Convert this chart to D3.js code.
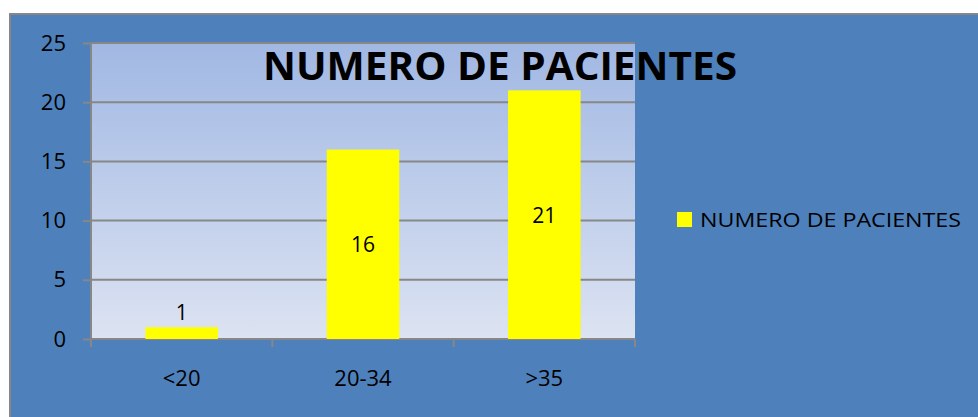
<!DOCTYPE html>
<html lang="en">
<head>
<meta charset="utf-8">
<title>Numero de pacientes</title>
<script src="https://d3js.org/d3.v7.min.js"></script>
<style>
  body { margin: 0; background: #fff; }
  svg text { font-family: "Open Sans", "Noto Sans", sans-serif; fill: #000; }
</style>
</head>
<body>
<svg id="chart" width="978" height="417"></svg>
<script>
// data
var categories = ["<20", "20-34", ">35"];
var pacientes = [1, 16, 21];
var yTicks = [0, 5, 10, 15, 20, 25];
var seriesName = "NUMERO DE PACIENTES";

var svg = d3.select("#chart");
var plot = { left: 91, right: 635, top: 43, bottom: 339 };

// outer frame
svg.append("rect")
  .attr("x", 10).attr("y", 14)
  .attr("width", 978).attr("height", 420)
  .attr("fill", "#4e80bc")
  .attr("stroke", "#878787").attr("stroke-width", 2);

// plot background gradient
var grad = svg.append("defs").append("linearGradient")
  .attr("id", "bg").attr("x1", 0).attr("x2", 0).attr("y1", 0).attr("y2", 1);
grad.append("stop").attr("offset", "0%").attr("stop-color", "#a1b8e3");
grad.append("stop").attr("offset", "100%").attr("stop-color", "#dce3f2");

svg.append("rect")
  .attr("x", plot.left).attr("y", plot.top)
  .attr("width", plot.right - plot.left).attr("height", plot.bottom - plot.top)
  .attr("fill", "url(#bg)");

var x = d3.scaleBand()
  .domain(categories)
  .range([plot.left, plot.right])
  .paddingInner(0.6).paddingOuter(0.3);

var y = d3.scaleLinear()
  .domain([0, 25])
  .range([plot.bottom, plot.top]);

// gridlines
svg.append("g").selectAll("line")
  .data(yTicks.filter(function(d) { return d > 0; }))
  .enter().append("line")
  .attr("x1", plot.left).attr("x2", plot.right)
  .attr("y1", function(d) { return y(d); }).attr("y2", function(d) { return y(d); })
  .attr("stroke", "#878787").attr("stroke-width", 2);

// y axis
var yAxis = svg.append("g")
  .attr("transform", "translate(" + plot.left + ",0)")
  .call(d3.axisLeft(y).tickValues(yTicks).tickSize(8).tickPadding(17));
yAxis.selectAll("text").style("font-size", "22px");

// x axis with boundary ticks
var xAxis = svg.append("g")
  .attr("transform", "translate(0," + plot.bottom + ")")
  .call(d3.axisBottom(x).tickSize(0).tickPadding(31));
xAxis.selectAll("text").style("font-size", "22px");
var step = (plot.right - plot.left) / categories.length;
xAxis.selectAll(".bound")
  .data(d3.range(categories.length + 1))
  .enter().append("line")
  .attr("x1", function(i) { return plot.left + i * step; })
  .attr("x2", function(i) { return plot.left + i * step; })
  .attr("y1", 0).attr("y2", 8);

svg.selectAll(".domain, .tick line, g line")
  .attr("stroke", "#878787").attr("stroke-width", 2);
xAxis.select(".domain").attr("d", "M" + plot.left + ",0H" + plot.right);
yAxis.select(".domain").attr("d", "M0," + plot.top + "V" + plot.bottom);

// bars
svg.append("g").selectAll("rect")
  .data(pacientes)
  .enter().append("rect")
  .attr("x", function(d, i) { return x(categories[i]); })
  .attr("y", function(d) { return y(d); })
  .attr("width", x.bandwidth())
  .attr("height", function(d) { return y(0) - y(d); })
  .attr("fill", "#ffff00");

// value labels
svg.append("g").selectAll("text")
  .data(pacientes)
  .enter().append("text")
  .attr("x", function(d, i) { return x(categories[i]) + x.bandwidth() / 2; })
  .attr("y", function(d) {
    return d < 3 ? y(d) - 7 : (y(d) + y(0)) / 2 + 8;
  })
  .attr("text-anchor", "middle")
  .style("font-size", "21px")
  .text(function(d) { return d; });

// title
svg.append("text")
  .attr("x", 500).attr("y", 80)
  .attr("text-anchor", "middle")
  .style("font-size", "39px").style("font-weight", "bold")
  .attr("textLength", 474).attr("lengthAdjust", "spacingAndGlyphs")
  .text(seriesName);

// legend
svg.append("rect")
  .attr("x", 677).attr("y", 212).attr("width", 15).attr("height", 15)
  .attr("fill", "#ffff00");
svg.append("text")
  .attr("x", 700).attr("y", 227)
  .style("font-size", "20px")
  .attr("textLength", 261).attr("lengthAdjust", "spacingAndGlyphs")
  .text(seriesName);
</script>
</body>
</html>
